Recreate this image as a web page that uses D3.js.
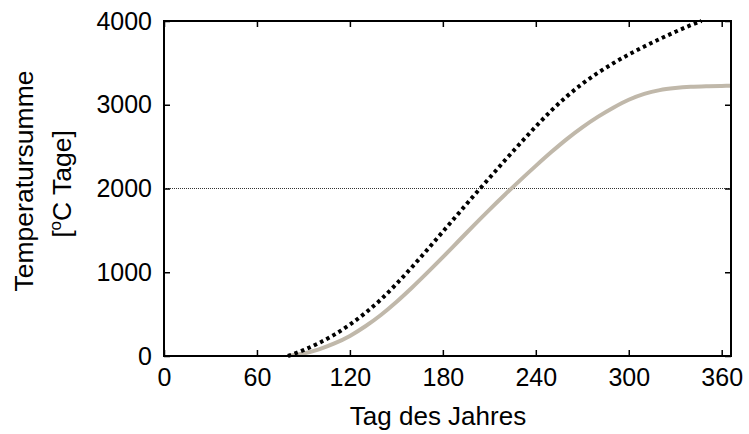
<!DOCTYPE html>
<html>
<head>
<meta charset="utf-8">
<script src="https://cdn.jsdelivr.net/npm/d3@7"></script>
<style>
  body { margin: 0; background: #fff; }
  svg { font-family: "Liberation Sans", Arial, sans-serif; }
</style>
</head>
<body>
<svg id="vis" width="749" height="434"></svg>
<script>
// day of year
const days = [80, 90, 100, 110, 120, 130, 140, 150, 160, 170, 180, 190, 200, 210, 220,
    230, 240, 250, 260, 270, 280, 290, 300, 310, 320, 330, 340, 347];
// dotted black series
const sumDotted = [0, 70, 155, 255, 375, 515, 675, 860, 1060, 1270, 1485, 1700, 1915, 2125, 2335,
    2540, 2740, 2930, 3100, 3250, 3380, 3495, 3600, 3695, 3785, 3870, 3950, 4000];

const daysTan = [80, 90, 100, 110, 120, 130, 140, 150, 160, 170, 180, 190, 200, 210, 220,
    230, 240, 250, 260, 270, 280, 290, 300, 310, 320, 330, 340, 350, 360, 366];
const sumTan = [0, 30, 80, 150, 240, 355, 490, 645, 815, 995, 1180, 1370, 1560, 1745, 1925,
    2100, 2270, 2435, 2590, 2730, 2855, 2965, 3060, 3130, 3175, 3200, 3215, 3222, 3225, 3226];

const xTicks = [0, 60, 120, 180, 240, 300, 360];
const yTicks = [0, 1000, 2000, 3000, 4000];
const refLine = 2000;

const margin = {top: 21, right: 18, bottom: 78, left: 164};
const width = 749 - margin.left - margin.right;
const height = 434 - margin.top - margin.bottom;

const svg = d3.select("svg#vis");
const g = svg.append("g").attr("transform", `translate(${margin.left},${margin.top})`);

const x = d3.scaleLinear().domain([0, 366]).range([0, width]);
const y = d3.scaleLinear().domain([0, 4000]).range([height, 0]);

g.append("clipPath").attr("id", "clip")
    .append("rect").attr("width", width).attr("height", height);

// reference line
g.append("line")
    .attr("x1", 0).attr("x2", width)
    .attr("y1", y(refLine)).attr("y2", y(refLine))
    .attr("stroke", "#333")
    .attr("stroke-width", 1)
    .attr("stroke-dasharray", "1,1");

const line = d3.line().curve(d3.curveMonotoneX);

g.append("path")
    .attr("clip-path", "url(#clip)")
    .attr("d", line(daysTan.map((d, i) => [x(d), y(sumTan[i])])))
    .attr("fill", "none")
    .attr("stroke", "#c0b8aa")
    .attr("stroke-width", 4);

g.append("path")
    .attr("d", line(days.map((d, i) => [x(d), y(sumDotted[i])])))
    .attr("fill", "none")
    .attr("stroke", "#000")
    .attr("stroke-width", 4)
    .attr("stroke-dasharray", "3.5,3.5");

// axes, ticks pointing inward
const styleAxis = sel => {
    sel.select(".domain").remove();
    sel.selectAll(".tick line").attr("stroke", "#000").attr("stroke-width", 1.5);
    sel.selectAll("text").attr("font-size", 25).attr("fill", "#000")
        .attr("font-family", "'Liberation Sans', Arial, sans-serif");
};
const fmt = d3.format("d");

g.append("g").attr("transform", `translate(0,${height})`)
    .call(d3.axisBottom(x).tickValues(xTicks).tickFormat(fmt).tickSizeInner(-6).tickSizeOuter(0).tickPadding(12))
    .call(styleAxis);
g.append("g")
    .call(d3.axisTop(x).tickValues(xTicks).tickSizeInner(-6).tickSizeOuter(0).tickFormat(""))
    .call(styleAxis);
g.append("g")
    .call(d3.axisLeft(y).tickValues(yTicks).tickFormat(fmt).tickSizeInner(-6).tickSizeOuter(0).tickPadding(12))
    .call(styleAxis);
g.append("g").attr("transform", `translate(${width},0)`)
    .call(d3.axisRight(y).tickValues(yTicks).tickSizeInner(-6).tickSizeOuter(0).tickFormat(""))
    .call(styleAxis);

// frame
g.append("rect")
    .attr("width", width).attr("height", height)
    .attr("fill", "none").attr("stroke", "#000").attr("stroke-width", 2);

// titles
svg.append("text")
    .attr("x", 438).attr("y", 425)
    .attr("text-anchor", "middle")
    .attr("font-size", 26)
    .text("Tag des Jahres");

svg.append("text")
    .attr("transform", "translate(33,181) rotate(-90)")
    .attr("text-anchor", "middle")
    .attr("font-size", 26.5)
    .text("Temperatursumme");

const t2 = svg.append("text")
    .attr("transform", "translate(71,184) rotate(-90)")
    .attr("text-anchor", "middle")
    .attr("font-size", 26.5);
t2.append("tspan").text("[");
t2.append("tspan").attr("font-size", 17).attr("dy", -10).text("o");
t2.append("tspan").attr("dy", 10).text("C Tage]");
</script>
</body>
</html>
